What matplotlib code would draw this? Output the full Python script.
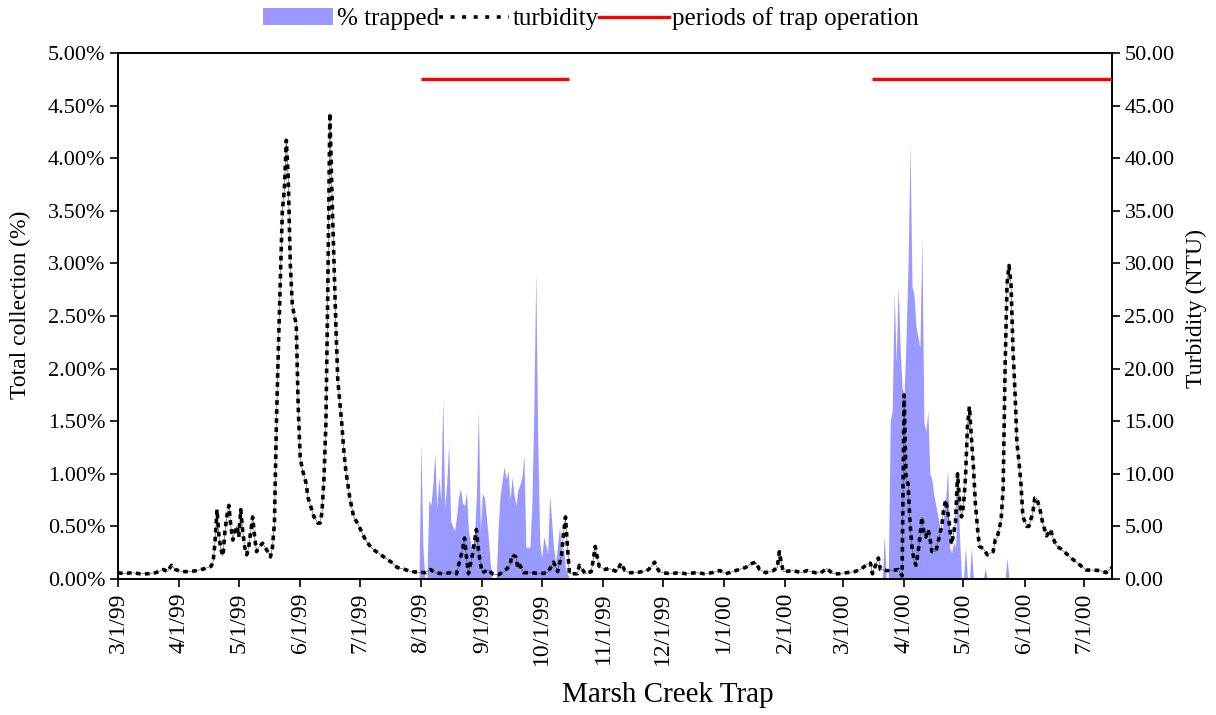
import matplotlib
matplotlib.use("Agg")
import matplotlib.pyplot as plt
import matplotlib.dates as mdates
from matplotlib.ticker import FuncFormatter, MultipleLocator
from matplotlib.patches import Patch
from matplotlib.lines import Line2D
import pandas as pd

plt.rcParams['font.family'] = ['Liberation Serif', 'DejaVu Serif']

# Daily turbidity readings (NTU) at Marsh Creek
turb_dates = [
    "3/1/99", "3/4/99", "3/8/99", "3/12/99", "3/16/99", "3/20/99", "3/24/99", "3/26/99",
    "3/28/99", "3/30/99", "4/2/99", "4/6/99", "4/10/99", "4/14/99", "4/17/99", "4/18/99",
    "4/19/99", "4/20/99", "4/21/99", "4/22/99", "4/23/99", "4/24/99", "4/25/99", "4/26/99",
    "4/27/99", "4/28/99", "4/29/99", "4/30/99", "5/1/99", "5/2/99", "5/3/99", "5/4/99",
    "5/5/99", "5/6/99", "5/7/99", "5/8/99", "5/9/99", "5/10/99", "5/11/99", "5/13/99",
    "5/15/99", "5/17/99", "5/18/99", "5/19/99", "5/20/99", "5/21/99", "5/22/99", "5/23/99",
    "5/24/99", "5/25/99", "5/26/99", "5/27/99", "5/28/99", "5/29/99", "5/30/99", "5/31/99",
    "6/1/99", "6/2/99", "6/4/99", "6/5/99", "6/7/99", "6/8/99", "6/10/99", "6/11/99",
    "6/12/99", "6/13/99", "6/14/99", "6/15/99", "6/16/99", "6/17/99", "6/18/99", "6/19/99",
    "6/20/99", "6/22/99", "6/23/99", "6/24/99", "6/26/99", "6/28/99", "6/30/99", "7/2/99",
    "7/4/99", "7/6/99", "7/8/99", "7/11/99", "7/14/99", "7/17/99", "7/20/99", "7/24/99",
    "7/27/99", "8/3/99", "8/6/99", "8/8/99", "8/12/99", "8/16/99", "8/19/99", "8/20/99",
    "8/22/99", "8/23/99", "8/24/99", "8/25/99", "8/27/99", "8/29/99", "8/30/99", "8/31/99",
    "9/1/99", "9/4/99", "9/6/99", "9/9/99", "9/12/99", "9/15/99", "9/16/99", "9/18/99",
    "9/19/99", "9/20/99", "9/22/99", "9/26/99", "9/30/99", "10/4/99", "10/7/99", "10/9/99",
    "10/11/99", "10/12/99", "10/13/99", "10/14/99", "10/15/99", "10/19/99", "10/20/99", "10/23/99",
    "10/26/99", "10/27/99", "10/28/99", "10/29/99", "10/30/99", "11/2/99", "11/4/99", "11/8/99",
    "11/10/99", "11/12/99", "11/14/99", "11/18/99", "11/23/99", "11/24/99", "11/27/99", "11/29/99",
    "12/1/99", "12/5/99", "12/9/99", "12/13/99", "12/18/99", "12/22/99", "12/26/99", "12/30/99",
    "1/2/00", "1/7/00", "1/12/00", "1/14/00", "1/17/00", "1/19/00", "1/22/00", "1/26/00",
    "1/28/00", "1/29/00", "1/30/00", "1/31/00", "2/5/00", "2/9/00", "2/12/00", "2/16/00",
    "2/19/00", "2/22/00", "2/25/00", "2/28/00", "3/3/00", "3/7/00", "3/10/00", "3/12/00",
    "3/14/00", "3/15/00", "3/16/00", "3/18/00", "3/19/00", "3/20/00", "3/23/00", "3/26/00",
    "3/29/00", "3/31/00", "4/1/00", "4/2/00", "4/3/00", "4/4/00", "4/5/00", "4/6/00",
    "4/7/00", "4/8/00", "4/9/00", "4/10/00", "4/11/00", "4/12/00", "4/13/00", "4/14/00",
    "4/15/00", "4/17/00", "4/18/00", "4/20/00", "4/21/00", "4/22/00", "4/23/00", "4/24/00",
    "4/25/00", "4/27/00", "4/28/00", "4/29/00", "4/30/00", "5/1/00", "5/2/00", "5/3/00",
    "5/4/00", "5/5/00", "5/6/00", "5/7/00", "5/8/00", "5/9/00", "5/11/00", "5/13/00",
    "5/16/00", "5/17/00", "5/18/00", "5/20/00", "5/21/00", "5/22/00", "5/23/00", "5/24/00",
    "5/25/00", "5/26/00", "5/27/00", "5/28/00", "5/29/00", "5/30/00", "5/31/00", "6/2/00",
    "6/3/00", "6/5/00", "6/6/00", "6/7/00", "6/9/00", "6/10/00", "6/12/00", "6/14/00",
    "6/15/00", "6/17/00", "6/19/00", "6/22/00", "6/25/00", "6/29/00", "7/2/00", "7/5/00",
    "7/9/00", "7/12/00", "7/15/00",
]
turb_ntu = [
    0.6, 0.5, 0.6, 0.5, 0.5, 0.6, 0.9, 0.7,
    1.3, 0.9, 0.7, 0.7, 0.8, 1.0, 1.2, 1.6,
    3.5, 6.6, 4.0, 2.8, 2.2, 4.5, 6.0, 7.0,
    5.0, 3.7, 4.5, 5.0, 4.0, 6.6, 4.5, 3.0,
    2.3, 3.0, 4.5, 5.9, 4.0, 2.6, 3.0, 3.4,
    2.8, 2.1, 3.0, 5.3, 14.8, 22.0, 28.5, 35.0,
    37.0, 41.7, 38.0, 30.0, 26.2, 25.0, 24.3, 16.4,
    11.6, 10.5, 9.1, 7.7, 6.5, 5.9, 5.3, 5.3,
    6.3, 9.5, 14.8, 28.0, 44.3, 37.0, 30.6, 24.3,
    18.9, 14.8, 12.3, 10.4, 7.8, 5.9, 5.3, 4.5,
    3.7, 3.2, 2.8, 2.4, 2.0, 1.6, 1.1, 0.9,
    0.7, 0.6, 0.9, 0.6, 0.5, 0.6, 0.5, 1.3,
    2.8, 3.9, 2.1, 0.5, 2.3, 4.7, 2.8, 1.5,
    0.6, 0.9, 0.5, 0.4, 0.7, 1.3, 2.3, 2.1,
    1.0, 1.3, 0.6, 0.6, 0.5, 0.6, 1.6, 0.7,
    2.3, 4.3, 5.9, 3.0, 0.5, 0.5, 1.3, 0.5,
    0.7, 1.8, 3.1, 2.1, 1.2, 0.9, 1.0, 0.7,
    1.5, 0.8, 0.6, 0.6, 0.8, 0.9, 1.6, 0.8,
    0.6, 0.5, 0.6, 0.5, 0.6, 0.5, 0.6, 0.8,
    0.5, 0.8, 1.1, 1.4, 1.6, 0.9, 0.6, 0.8,
    1.1, 2.6, 1.5, 0.7, 0.8, 0.6, 0.8, 0.6,
    0.6, 1.0, 0.5, 0.5, 0.6, 0.7, 0.9, 1.2,
    1.5, 1.5, 0.5, 1.5, 2.0, 0.9, 0.8, 0.8,
    0.9, 0.3, 17.5, 9.4, 9.1, 5.3, 3.0, 1.8,
    1.3, 2.4, 4.0, 5.9, 4.3, 4.0, 4.7, 4.0,
    2.6, 2.6, 3.4, 5.0, 6.6, 7.5, 6.5, 5.0,
    3.3, 5.4, 10.0, 7.5, 5.9, 7.0, 9.6, 14.5,
    16.4, 13.4, 10.7, 7.2, 5.0, 3.1, 2.9, 2.3,
    2.6, 3.7, 3.9, 5.6, 8.5, 20.0, 28.1, 29.8,
    28.0, 21.8, 17.8, 12.9, 11.2, 9.1, 5.9, 5.0,
    5.0, 6.3, 7.7, 7.7, 6.3, 5.3, 4.1, 4.7,
    4.0, 3.1, 2.9, 2.4, 1.9, 1.3, 0.85, 0.85,
    0.8, 0.6, 1.1,
]

# Share of the run collected by the trap each day (%)
trap_dates = [
    "7/31/99", "8/1/99", "8/2/99", "8/3/99", "8/4/99", "8/5/99", "8/6/99", "8/7/99",
    "8/8/99", "8/9/99", "8/10/99", "8/11/99", "8/12/99", "8/13/99", "8/14/99", "8/15/99",
    "8/16/99", "8/17/99", "8/18/99", "8/19/99", "8/20/99", "8/21/99", "8/22/99", "8/23/99",
    "8/24/99", "8/25/99", "8/26/99", "8/27/99", "8/28/99", "8/29/99", "8/30/99", "8/31/99",
    "9/1/99", "9/2/99", "9/3/99", "9/4/99", "9/5/99", "9/6/99", "9/8/99", "9/9/99",
    "9/10/99", "9/12/99", "9/13/99", "9/14/99", "9/15/99", "9/16/99", "9/17/99", "9/18/99",
    "9/19/99", "9/20/99", "9/21/99", "9/22/99", "9/23/99", "9/25/99", "9/26/99", "9/27/99",
    "9/28/99", "9/29/99", "9/30/99", "10/1/99", "10/2/99", "10/4/99", "10/5/99", "10/6/99",
    "10/7/99", "10/8/99", "10/10/99", "10/11/99", "10/12/99", "10/13/99", "10/15/99",
    "3/21/00", "3/22/00", "3/23/00", "3/24/00", "3/25/00", "3/26/00", "3/27/00", "3/28/00",
    "3/29/00", "3/30/00", "3/31/00", "4/1/00", "4/2/00", "4/3/00", "4/4/00", "4/5/00",
    "4/6/00", "4/7/00", "4/8/00", "4/9/00", "4/10/00", "4/11/00", "4/12/00", "4/13/00",
    "4/14/00", "4/15/00", "4/16/00", "4/17/00", "4/18/00", "4/19/00", "4/20/00", "4/21/00",
    "4/22/00", "4/23/00", "4/24/00", "4/25/00", "4/26/00", "4/27/00", "4/28/00", "4/29/00",
    "4/30/00", "5/1/00", "5/2/00", "5/3/00", "5/4/00", "5/5/00", "5/6/00", "5/11/00",
    "5/12/00", "5/13/00", "5/22/00", "5/23/00", "5/24/00",
]
trap_pct = [
    0.0, 1.29, 0.3, 0.0, 0.0, 0.75, 0.70, 0.9,
    1.2, 0.68, 0.97, 0.75, 1.72, 0.68, 0.9, 1.29,
    0.55, 0.5, 0.46, 0.6, 0.78, 0.86, 0.72, 0.7,
    0.83, 0.45, 0.35, 0.25, 0.4, 0.8, 1.61, 0.46,
    0.81, 0.78, 0.6, 0.4, 0.15, 0.0, 0.0, 0.5,
    0.8, 1.07, 0.95, 1.03, 0.75, 0.97, 0.8, 0.7,
    0.85, 0.9, 0.97, 1.18, 0.3, 0.3, 0.7, 1.6,
    2.92, 1.3, 0.35, 0.2, 0.4, 0.25, 0.8, 0.55,
    0.3, 0.15, 0.5, 0.25, 0.3, 0.1, 0.0,
    0.0, 0.42, 0.0, 0.0, 1.5, 1.6, 2.72, 2.05,
    2.8, 2.2, 1.82, 1.75, 2.3, 3.0, 4.13, 2.78,
    2.7, 2.4, 2.3, 2.2, 3.25, 1.5, 1.4, 1.6,
    1.0, 0.95, 0.8, 0.7, 0.6, 0.5, 0.42, 0.6,
    0.75, 1.05, 0.3, 0.25, 0.35, 0.3, 1.05, 0.4,
    0.0, 0.0, 0.3, 0.0, 0.0, 0.3, 0.0, 0.0,
    0.1, 0.0, 0.0, 0.2, 0.0,
]

# Periods when the trap was fishing
trap_periods = [("8/1/99", "10/15/99"), ("3/16/00", "7/15/00")]
trap_period_level = 47.5  # NTU, drawn across the top of the plot

x_start, x_end = "3/1/99", "7/15/00"

fmt = "%m/%d/%y"
t_dates = pd.to_datetime(turb_dates, format=fmt)
p_dates = pd.to_datetime(trap_dates, format=fmt)

FILL = "#9999ff"
DOTS = (0, (1.3, 1.2))
W, H = 1216, 715
fig = plt.figure(figsize=(W / 100, H / 100), dpi=100)
ax = fig.add_axes([118 / W, 1 - 579 / H, (1112 - 118) / W, (579 - 53) / H])
ax2 = ax.twinx()

ax.fill_between(p_dates, 0, trap_pct, color=FILL, lw=0, zorder=1)

ax2.plot(t_dates, turb_ntu, color="#444444", lw=0.4, zorder=2)
ax2.plot(t_dates, turb_ntu, color="black", lw=2.6, linestyle=DOTS,
         dash_capstyle="butt", zorder=3)
for start, end in trap_periods:
    ax2.plot(pd.to_datetime([start, end], format=fmt),
             [trap_period_level, trap_period_level], color="red", lw=2.4,
             solid_capstyle="butt", zorder=4)

ax.set_xlim(pd.to_datetime(x_start, format=fmt), pd.to_datetime(x_end, format=fmt))
ax.set_ylim(0, 5)
ax2.set_ylim(0, 50)

ax.xaxis.set_major_locator(mdates.MonthLocator())
ax.xaxis.set_major_formatter(
    FuncFormatter(lambda v, p: "{d.month}/{d.day}/{y:02d}".format(
        d=mdates.num2date(v), y=mdates.num2date(v).year % 100)))
ax.yaxis.set_major_locator(MultipleLocator(0.5))
ax.yaxis.set_major_formatter(FuncFormatter(lambda v, p: f"{v:.2f}%"))
ax2.yaxis.set_major_locator(MultipleLocator(5))
ax2.yaxis.set_major_formatter(FuncFormatter(lambda v, p: f"{v:.2f}"))

for a in (ax, ax2):
    for s in a.spines.values():
        s.set_linewidth(1.2)
ax.tick_params(axis="x", direction="out", length=6, width=1.2, labelsize=17,
               labelrotation=90, pad=4)
ax.tick_params(axis="y", direction="out", length=6, width=1.2, labelsize=16, pad=3)
ax2.tick_params(axis="y", direction="out", length=6, width=1.2, labelsize=16, pad=3)

fig.text(20 / W, 1 - 305 / H, "Total collection (%)", rotation=90, fontsize=17,
         ha="center", va="center")
fig.text(1196 / W, 1 - 308 / H, "Turbidity (NTU)", rotation=90, fontsize=17,
         ha="center", va="center")
fig.text(668 / W, 1 - 695 / H, "Marsh Creek Trap", fontsize=21,
         ha="center", va="center")

handles = [
    Patch(facecolor=FILL, edgecolor="none"),
    Line2D([], [], color="black", lw=2.6, linestyle=(0, (1.1, 2.1))),
    Line2D([], [], color="red", lw=2.4),
]
labels = ["% trapped", "turbidity", "periods of trap operation"]
fig.legend(handles, labels, ncol=3, loc="center",
           bbox_to_anchor=(591 / W, 1 - 19 / H), frameon=False, fontsize=18,
           handlelength=2.8, handletextpad=0.15, columnspacing=0.0,
           borderaxespad=0, borderpad=0)

fig.savefig("out.png", dpi=100)
